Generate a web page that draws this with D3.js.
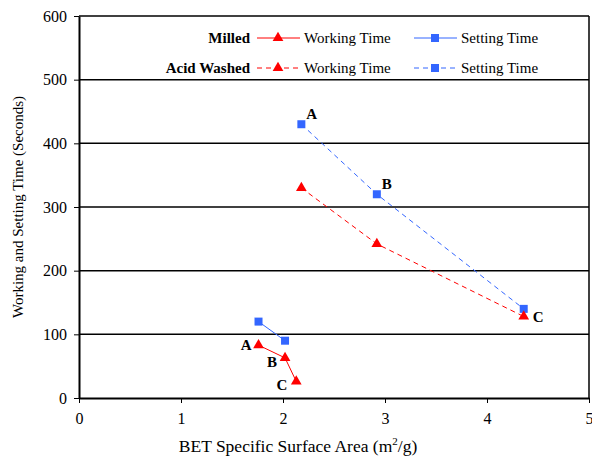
<!DOCTYPE html>
<html>
<head>
<meta charset="utf-8">
<script src="https://cdn.jsdelivr.net/npm/d3@7"></script>
<style>
  body { margin: 0; background: #fff; }
  svg text { font-family: "Liberation Serif", "DejaVu Serif", serif !important; }
</style>
</head>
<body>
<div id="chart"></div>
<script>
// values
const samples = ["A", "B", "C"];
const milledArea = [1.76, 2.02, 2.13];
const milledWorking = [83, 63, 26];
const milledSettingArea = [1.76, 2.02];
const milledSetting = [120, 90];
const acidArea = [2.18, 2.92, 4.36];
const acidWorking = [330, 242, 128];
const acidSetting = [430, 320, 140];
const xTicks = [0, 1, 2, 3, 4, 5];
const yTicks = [0, 100, 200, 300, 400, 500, 600];

const RED = "#ff0000", BLUE = "#3366ff";
const FONT = "'Liberation Serif', 'DejaVu Serif', serif";

const width = 592, height = 461;
const margin = {top: 16, right: 3, bottom: 63, left: 79};

let svg = d3.select("#chart").append("svg")
  .attr("width", width)
  .attr("height", height)
  .style("font-family", FONT);

let x = d3.scaleLinear().domain([0, 5]).range([margin.left, width - margin.right]);
let y = d3.scaleLinear().domain([0, 600]).range([height - margin.bottom, margin.top]);

// gridlines
svg.append("g")
  .selectAll("line")
  .data(yTicks.slice(1))
  .enter()
  .append("line")
  .attr("x1", x(0)).attr("x2", x(5))
  .attr("y1", d => y(d)).attr("y2", d => y(d))
  .style("stroke", "black")
  .style("stroke-width", "1.5px");

// right border
svg.append("line")
  .attr("x1", x(5)).attr("x2", x(5))
  .attr("y1", y(0)).attr("y2", y(600))
  .style("stroke", "black").style("stroke-width", "1.5px");

let xAxis = svg.append("g")
  .attr("transform", "translate(0," + y(0) + ")")
  .call(d3.axisBottom(x).tickValues(xTicks).tickFormat(d3.format("d")).tickSize(5).tickSizeOuter(0));
let yAxis = svg.append("g")
  .attr("transform", "translate(" + x(0) + ",0)")
  .call(d3.axisLeft(y).tickValues(yTicks).tickSize(5).tickSizeOuter(0));

[xAxis, yAxis].forEach(function (a) {
  a.attr("font-family", null);
  a.select(".domain").style("stroke", "black").style("stroke-width", "2px");
  a.selectAll(".tick line").style("stroke", "black").style("stroke-width", "1px");
  a.selectAll(".tick text")
    .style("font-family", FONT)
    .style("font-size", "16px")
    .attr("fill", "black");
});
xAxis.selectAll(".tick text").attr("dy", "1.1em");
yAxis.selectAll(".tick text").attr("dx", "-4px");

// axis titles
let xt = svg.append("text")
  .attr("x", 298)
  .attr("y", 452)
  .attr("text-anchor", "middle")
  .style("font-size", "17.5px");
xt.append("tspan").text("BET Specific Surface Area (m");
xt.append("tspan").attr("dy", -7).style("font-size", "11px").text("2");
xt.append("tspan").attr("dy", 7).text("/g)");

svg.append("text")
  .attr("transform", "translate(23," + ((y(0) + y(600)) / 2) + ") rotate(-90)")
  .attr("text-anchor", "middle")
  .style("font-size", "15px")
  .text("Working and Setting Time (Seconds)");

const line = d3.line().x(d => x(d[0])).y(d => y(d[1]));
const tri = d3.symbol().type(d3.symbolTriangle).size(50);
const sq = d3.symbol().type(d3.symbolSquare).size(64);

function series(xs, ys, color, dashed, shape) {
  let pts = xs.map((v, i) => [v, ys[i]]);
  svg.append("path")
    .attr("d", line(pts))
    .attr("fill", "none")
    .style("stroke", color)
    .style("stroke-width", "1px")
    .style("stroke-dasharray", dashed ? "5,4" : null);
  svg.append("g")
    .selectAll("path")
    .data(pts)
    .enter()
    .append("path")
    .attr("d", shape)
    .attr("transform", d => "translate(" + x(d[0]) + "," + y(d[1]) + ")")
    .attr("fill", color);
}

series(acidArea, acidSetting, BLUE, true, sq);
series(acidArea, acidWorking, RED, true, tri);
series(milledSettingArea, milledSetting, BLUE, false, sq);
series(milledArea, milledWorking, RED, false, tri);

// point labels
function label(t, px, py, anchor) {
  svg.append("text")
    .attr("x", px).attr("y", py)
    .attr("text-anchor", anchor)
    .style("font-size", "15px")
    .style("font-weight", "bold")
    .text(t);
}
samples.forEach(function (s, i) {
  label(s, x(acidArea[i]) + (i == 2 ? 9 : 5), y(acidSetting[i]) - (i == 2 ? -13 : 5), "start");
  label(s, x(milledArea[i]) - [7, 8, 9][i], y(milledWorking[i]) + [5, 9, 9][i], "end");
});

// legend
const legendRows = [
  {name: "Milled", dashed: false, y: 38},
  {name: "Acid Washed", dashed: true, y: 68}
];
legendRows.forEach(function (r) {
  svg.append("text")
    .attr("x", 250).attr("y", r.y + 5)
    .attr("text-anchor", "end")
    .style("font-size", "15px")
    .style("font-weight", "bold")
    .text(r.name);
  [[257, RED, tri, "Working Time"], [414, BLUE, sq, "Setting Time"]].forEach(function (e) {
    svg.append("line")
      .attr("x1", e[0]).attr("x2", e[0] + 43)
      .attr("y1", r.y).attr("y2", r.y)
      .style("stroke", e[1])
      .style("stroke-width", "1px")
      .style("stroke-dasharray", r.dashed ? "5,4" : null);
    svg.append("path")
      .attr("d", e[2])
      .attr("transform", "translate(" + (e[0] + 21) + "," + r.y + ")")
      .attr("fill", e[1]);
    svg.append("text")
      .attr("x", e[0] + 47).attr("y", r.y + 5)
      .style("font-size", "15px")
      .text(e[3]);
  });
});
</script>
</body>
</html>
